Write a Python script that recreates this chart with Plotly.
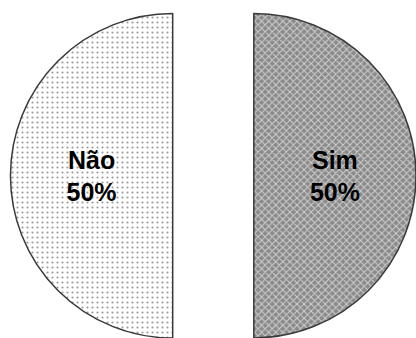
import plotly.graph_objects as go

labels = ["Sim", "Não"]
values = [50, 50]

line_col = "#3a3a3a"
font = dict(family="Liberation Sans, Arial, sans-serif", size=25, color="#000000")

fig = go.Figure()

# Right half: "Sim" (dark crosshatch)
fig.add_trace(go.Pie(
    labels=labels, values=values, sort=False, direction="clockwise", rotation=0,
    domain=dict(x=[(253.8 - 162.2) / 416, 1.0], y=[0, 0.96]),
    marker=dict(
        colors=["#8a8a8a", "rgba(0,0,0,0)"],
        line=dict(color=[line_col, "rgba(0,0,0,0)"], width=[1.5, 0]),
        pattern=dict(shape=["x", ""], bgcolor=["#8a8a8a", "rgba(0,0,0,0)"],
                     fgcolor=["#d2d2d2", "rgba(0,0,0,0)"], size=5, solidity=0.35),
    ),
    texttemplate=["<b>%{label}<br>%{percent}</b>", ""],
    textposition="inside", insidetextorientation="horizontal",
    insidetextfont=font, showlegend=False, hoverinfo="skip",
))

# Left half: "Não" (light dotted)
fig.add_trace(go.Pie(
    labels=labels, values=values, sort=False, direction="clockwise", rotation=0,
    domain=dict(x=[(172.7 - 162.5) / 416, (172.7 + 162.5) / 416], y=[0, 0.96]),
    marker=dict(
        colors=["rgba(0,0,0,0)", "#ffffff"],
        line=dict(color=["rgba(0,0,0,0)", line_col], width=[0, 1.5]),
        pattern=dict(shape=["", "."], bgcolor=["rgba(0,0,0,0)", "#ffffff"],
                     fgcolor=["rgba(0,0,0,0)", "#9a9a9a"], size=5, solidity=0.15),
    ),
    texttemplate=["", "<b>%{label}<br>%{percent}</b>"],
    textposition="inside", insidetextorientation="horizontal",
    insidetextfont=font, showlegend=False, hoverinfo="skip",
))

fig.update_layout(
    width=416, height=338,
    margin=dict(l=0, r=0, t=0, b=0),
    paper_bgcolor="white", plot_bgcolor="white",
)

fig.write_html("out.html")
